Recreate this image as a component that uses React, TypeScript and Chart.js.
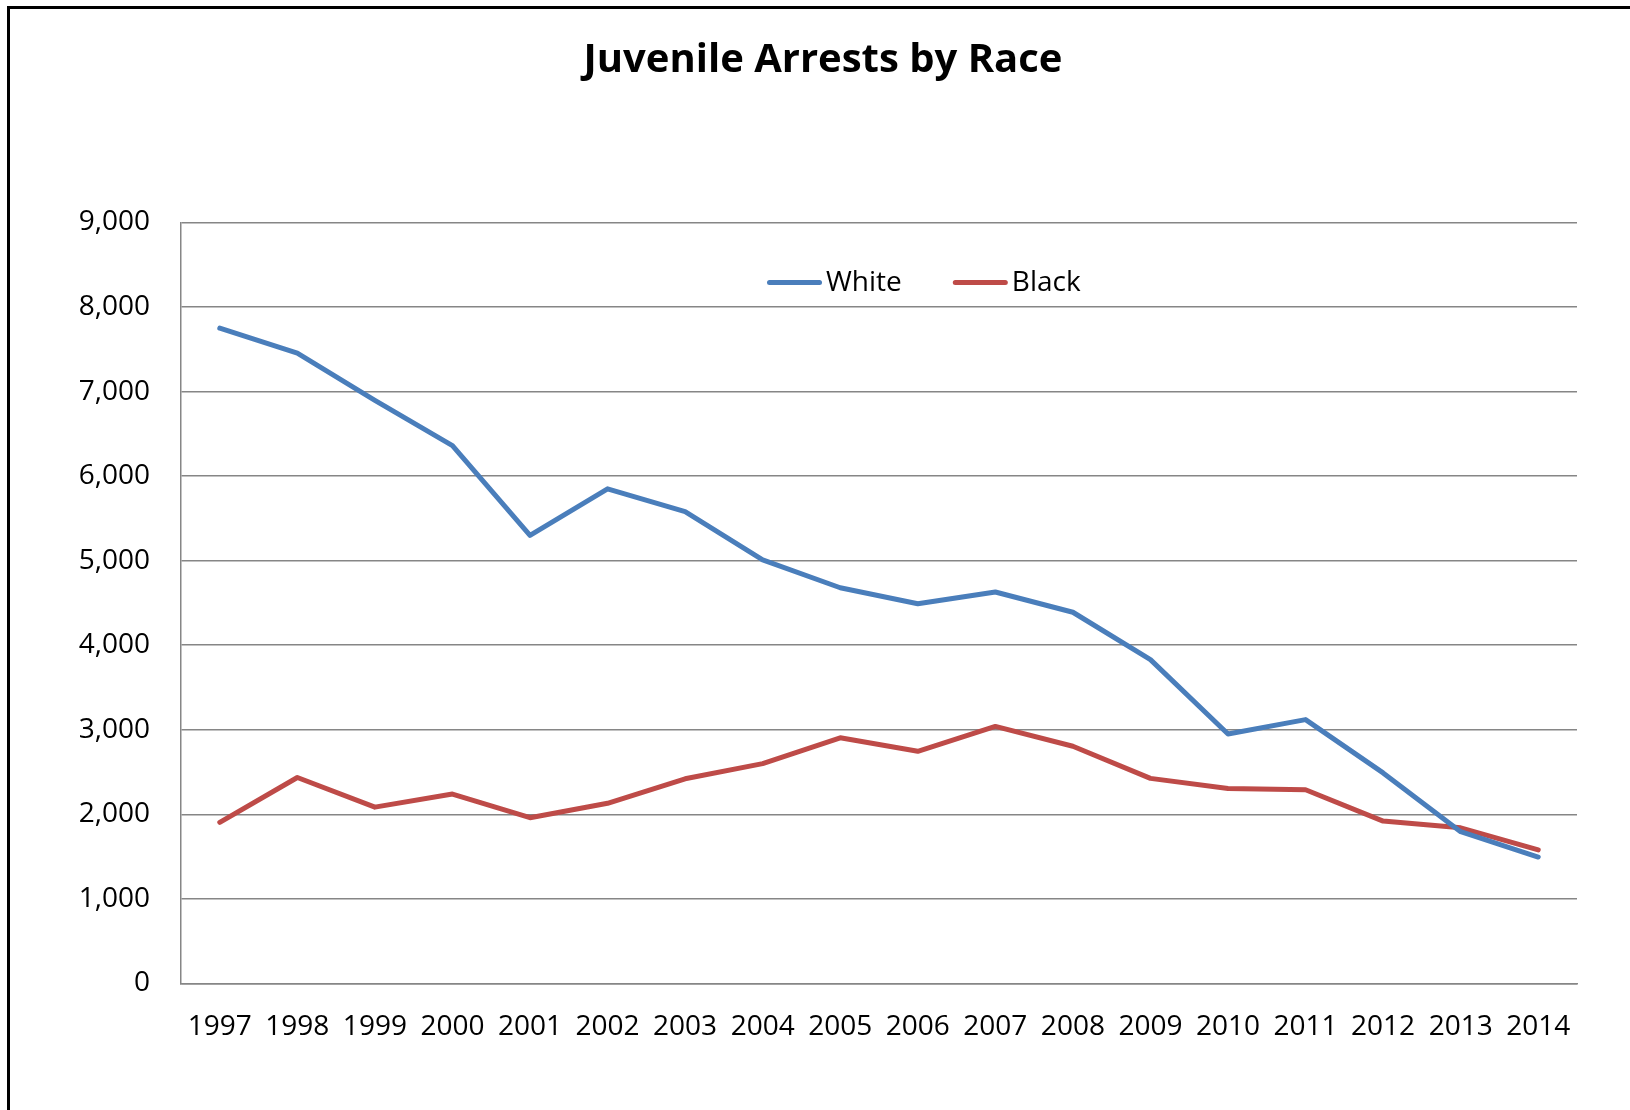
import React, { useEffect, useRef } from 'react';
import { Chart, registerables } from 'chart.js';

Chart.register(...registerables);

const years = ['1997', '1998', '1999', '2000', '2001', '2002', '2003', '2004', '2005', '2006', '2007', '2008', '2009', '2010', '2011', '2012', '2013', '2014'];
const whiteArrests = [7750, 7455, 6895, 6360, 5300, 5850, 5580, 5010, 4680, 4490, 4630, 4390, 3830, 2950, 3120, 2490, 1795, 1495];
const blackArrests = [1905, 2435, 2085, 2240, 1960, 2130, 2420, 2600, 2905, 2745, 3040, 2805, 2425, 2305, 2290, 1920, 1840, 1580];
const seriesLabels = ['White', 'Black'];
const seriesColors = ['#4a7ebb', '#be4b48'];
const yMin = 0;
const yMax = 9000;
const yStep = 1000;
const chartTitle = 'Juvenile Arrests by Race';

const FONT = '"Open Sans", "Noto Sans", sans-serif';

const insideLegend = {
  id: 'insideLegend',
  afterDatasetsDraw(chart: any) {
    const { ctx, chartArea } = chart;
    ctx.save();
    ctx.font = `28px ${FONT}`;
    const lineLen = 55;
    const gapText = 4;
    const gapItem = 51;
    let x = chartArea.left + 586;
    const y = chartArea.top + 60;
    chart.data.datasets.forEach((ds: any) => {
      ctx.strokeStyle = ds.borderColor;
      ctx.lineWidth = 5;
      ctx.lineCap = 'round';
      ctx.beginPath();
      ctx.moveTo(x + 2.5, y);
      ctx.lineTo(x + lineLen - 2.5, y);
      ctx.stroke();
      x += lineLen + gapText;
      ctx.fillStyle = '#000';
      ctx.textBaseline = 'middle';
      ctx.textAlign = 'left';
      ctx.fillText(ds.label, x, y + 1);
      x += ctx.measureText(ds.label).width + gapItem;
    });
    ctx.restore();
  },
};

export default function App() {
  const canvasRef = useRef<HTMLCanvasElement | null>(null);

  useEffect(() => {
    const canvas = canvasRef.current;
    if (!canvas) return;
    const chart = new Chart(canvas, {
      type: 'line',
      data: {
        labels: years,
        datasets: [
          {
            label: seriesLabels[0],
            data: whiteArrests,
            borderColor: seriesColors[0],
            backgroundColor: seriesColors[0],
            borderWidth: 5,
            pointRadius: 0,
            pointHoverRadius: 0,
            tension: 0,
            borderJoinStyle: 'round',
            borderCapStyle: 'round',
          },
          {
            label: seriesLabels[1],
            data: blackArrests,
            borderColor: seriesColors[1],
            backgroundColor: seriesColors[1],
            borderWidth: 5,
            pointRadius: 0,
            pointHoverRadius: 0,
            tension: 0,
            borderJoinStyle: 'round',
            borderCapStyle: 'round',
          },
        ],
      },
      options: {
        responsive: false,
        animation: false,
        events: [],
        layout: { padding: { left: 59, right: 53, top: 0, bottom: 0 } },
        plugins: {
          legend: { display: false },
          tooltip: { enabled: false },
          title: {
            display: true,
            text: chartTitle,
            color: '#000',
            font: { family: FONT, size: 40, weight: 'bold', lineHeight: 1.2 },
            padding: { top: 28, bottom: 137.5 },
          },
        },
        scales: {
          x: {
            type: 'category',
            offset: true,
            grid: { display: false, drawTicks: false },
            border: { display: true, color: '#868686', width: 1.5 },
            ticks: {
              color: '#000',
              font: { family: FONT, size: 28 },
              padding: 27,
              maxRotation: 0,
              autoSkip: false,
            },
            afterFit: (scale: any) => {
              scale.height = 126.6;
            },
          },
          y: {
            min: yMin,
            max: yMax,
            grid: { color: '#868686', lineWidth: 1.5, drawTicks: false },
            border: { display: true, color: '#868686', width: 1.5 },
            ticks: {
              stepSize: yStep,
              color: '#000',
              font: { family: FONT, size: 28 },
              padding: 31,
              callback: (v: any) => Number(v).toLocaleString('en-US'),
            },
            afterFit: (scale: any) => {
              scale.width = 112;
            },
          },
        },
      },
      plugins: [insideLegend],
    });
    return () => chart.destroy();
  }, []);

  return (
    <div
      style={{
        position: 'absolute',
        left: 7,
        top: 6,
        borderLeft: '3px solid #000',
        borderTop: '3px solid #000',
        background: '#fff',
      }}
    >
      <canvas ref={canvasRef} width={1620} height={1101} style={{ display: 'block' }} />
    </div>
  );
}
